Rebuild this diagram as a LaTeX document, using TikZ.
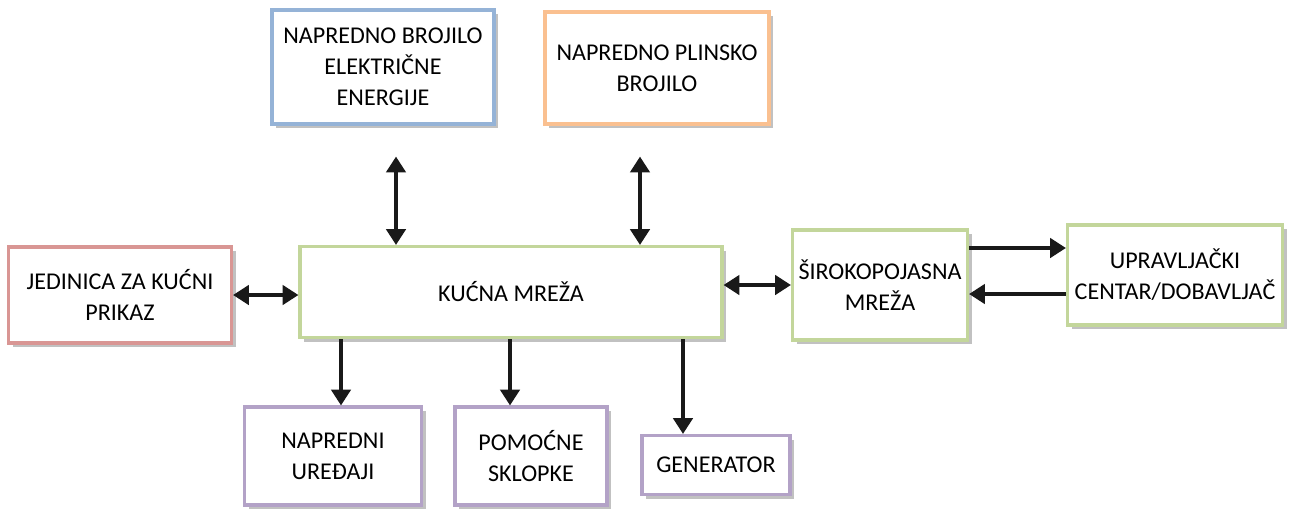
\documentclass[tikz,border=0pt]{standalone}
\usepackage{fontspec}
\setmainfont{Carlito}
\usetikzlibrary{arrows.meta,calc,shadows}
\newcommand\pxu{0.02cm}
\definecolor{elecblue}{HTML}{95B3D7}
\definecolor{gasorange}{HTML}{FAC090}
\definecolor{disppink}{HTML}{D99694}
\definecolor{netgreen}{HTML}{C3D69B}
\definecolor{devpurple}{HTML}{B3A2C7}
\begin{document}
\begin{tikzpicture}[x=0.02cm,y=-0.02cm,
	box/.style={draw=#1,line width=1.8pt,fill=white,align=center,
		font=\fontsize{13.7}{17.6}\selectfont,
		drop shadow={shadow xshift=2.5pt,shadow yshift=-2.5pt,fill=black!35,opacity=.7}},
	dbl/.style={{Triangle[length=9pt,width=11pt]}-{Triangle[length=9pt,width=11pt]},line width=2pt,black!90},
	one/.style={-{Triangle[length=9pt,width=11pt]},line width=2pt,black!90}]
	\useasboundingbox (0,0) rectangle (1292,508);
	\node[box=elecblue,minimum width=222*\pxu,minimum height=114*\pxu] (elek) at (383,67) {NAPREDNO BROJILO\\ELEKTRIČNE\\ENERGIJE};
	\node[box=gasorange,minimum width=224*\pxu,minimum height=112*\pxu] (plin) at (657,68) {NAPREDNO PLINSKO\\BROJILO};
	\node[box=disppink,minimum width=223*\pxu,minimum height=96*\pxu] (jed) at (120,295) {JEDINICA ZA KUĆNI\\PRIKAZ};
	\node[box=netgreen,minimum width=422*\pxu,minimum height=91*\pxu] (kucna) at (511,292) {KUĆNA MREŽA};
	\node[box=netgreen,minimum width=175*\pxu,minimum height=110*\pxu] (siroko) at (880,285) {ŠIROKOPOJASNA\\MREŽA};
	\node[box=netgreen,minimum width=215*\pxu,minimum height=100*\pxu] (uprav) at (1175,275) {UPRAVLJAČKI\\CENTAR/DOBAVLJAČ};
	\node[box=devpurple,minimum width=177*\pxu,minimum height=98*\pxu] (napred) at (333,456) {NAPREDNI\\UREĐAJI};
	\node[box=devpurple,minimum width=152*\pxu,minimum height=98*\pxu] (pomoc) at (531,456) {POMOĆNE\\SKLOPKE};
	\node[box=devpurple,minimum width=148*\pxu,minimum height=59*\pxu] (gen) at (716,465) {GENERATOR};
	\coordinate (e1) at ($(elek.south)+(13,31)$);
	\coordinate (p1) at ($(plin.south)+(-17,31)$);
	\coordinate (s1) at ($(siroko.east)+(0,-37)$);
	\coordinate (u1) at ($(uprav.west)+(0,19)$);
	\coordinate (k1) at ($(kucna.south)+(-170,0)$);
	\coordinate (k2) at ($(kucna.south)+(-1,0)$);
	\coordinate (k3) at ($(kucna.south)+(172,0)$);
	\draw[dbl] (e1) -- (e1 |- kucna.north);
	\draw[dbl] (p1) -- (p1 |- kucna.north);
	\draw[dbl] (jed.east) -- (jed.east -| kucna.west);
	\draw[dbl] (siroko.west -| kucna.east) -- (siroko.west);
	\draw[one] (s1) -- (s1 -| uprav.west);
	\draw[one] (u1) -- (u1 -| siroko.east);
	\draw[one] (k1) -- (k1 |- napred.north);
	\draw[one] (k2) -- (k2 |- pomoc.north);
	\draw[one] (k3) -- (k3 |- gen.north);
\end{tikzpicture}
\end{document}
